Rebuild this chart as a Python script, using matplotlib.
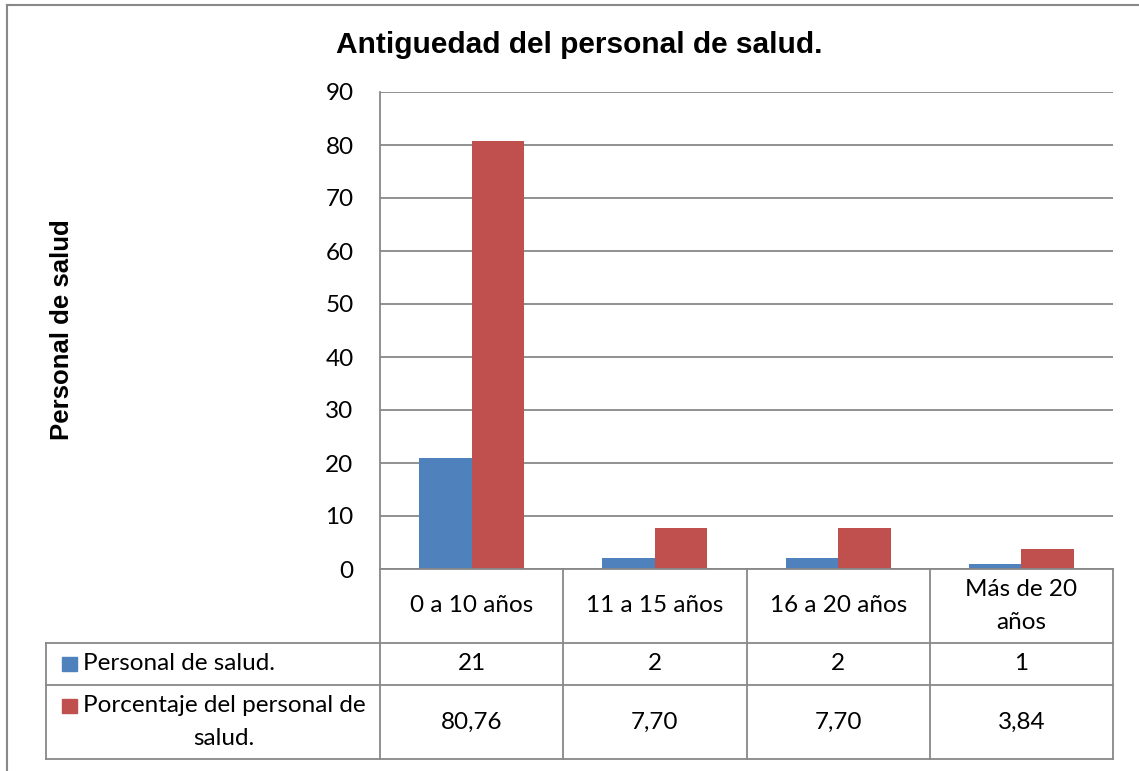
import matplotlib
matplotlib.use("Agg")
import matplotlib.pyplot as plt
import numpy as np

categories = ["0 a 10 años", "11 a 15 años", "16 a 20 años", "Más de 20\naños"]
series_names = ["Personal de salud.", "Porcentaje del personal de\nsalud."]
personal = [21, 2, 2, 1]
porcentaje = [80.76, 7.70, 7.70, 3.84]
personal_labels = ["21", "2", "2", "1"]
porcentaje_labels = ["80,76", "7,70", "7,70", "3,84"]
yticks = [0, 10, 20, 30, 40, 50, 60, 70, 80, 90]

title = "Antiguedad del personal de salud."
ylabel = "Personal de salud"

BLUE = "#4F81BD"
RED = "#C0504D"
GRID = "#888888"

W, H = 1139, 771
fig = plt.figure(figsize=(W / 100, H / 100), dpi=100)
fig.patch.set_facecolor("white")

fs = 17.5
fam = "Lato"
LS = 1.75

# layout in pixels
PL, PR, PT, PB = 380, 1113, 92, 569
ax = fig.add_axes([PL / W, 1 - PB / H, (PR - PL) / W, (PB - PT) / H])

x = np.arange(len(categories))
bw = 0.287
ax.bar(x - bw / 2, personal, bw, color=BLUE, zorder=3)
ax.bar(x + bw / 2, porcentaje, bw, color=RED, zorder=3)
ax.set_xlim(-0.5, len(categories) - 0.5)
ax.set_ylim(0, 90)
ax.set_yticks(yticks)
ax.set_yticklabels([str(t) for t in yticks], fontsize=fs, fontfamily=fam)
ax.set_xticks([])
ax.tick_params(axis="y", length=0, pad=19)
ax.yaxis.grid(True, color=GRID, lw=1.3, zorder=0)
ax.set_axisbelow(True)
for s in ["top", "right", "bottom"]:
    ax.spines[s].set_visible(False)
ax.spines["left"].set_color(GRID)
ax.spines["left"].set_linewidth(1.3)

# overlay in pixel coords for table and frame
ov = fig.add_axes([0, 0, 1, 1])
ov.set_xlim(0, W)
ov.set_ylim(H, 0)
ov.axis("off")
ov.patch.set_visible(False)

lc = GRID
lw = 1.3
# outer chart border (top and left)
ov.plot([7, W], [5, 5], color=lc, lw=1.5)
ov.plot([7, 7], [5, H], color=lc, lw=1.5)

TL = 46
rows = [PB, 643, 685, 759]
cw = (PR - PL) / len(categories)
edges = [PL + i * cw for i in range(len(categories) + 1)]
ov.plot([PL, PR], [rows[0], rows[0]], color=lc, lw=lw)
for r in rows[1:]:
    ov.plot([TL, PR], [r, r], color=lc, lw=lw)
for e in edges:
    ov.plot([e, e], [rows[0], rows[3]], color=lc, lw=lw)
ov.plot([TL, TL], [rows[1], rows[3]], color=lc, lw=lw)

for i, c in enumerate(categories):
    cx = (edges[i] + edges[i + 1]) / 2
    ov.text(cx, (rows[0] + rows[1]) / 2, c, ha="center", va="center",
            fontsize=fs, fontfamily=fam, linespacing=LS)
    ov.text(cx, (rows[1] + rows[2]) / 2, personal_labels[i], ha="center",
            va="center", fontsize=fs, fontfamily=fam)
    ov.text(cx, (rows[2] + rows[3]) / 2, porcentaje_labels[i], ha="center",
            va="center", fontsize=fs, fontfamily=fam)

# row labels with legend keys
key_centers = [664, 706]
for k, (name, col) in enumerate(zip(series_names, [BLUE, RED])):
    r0, r1 = rows[k + 1], rows[k + 2]
    cy = (r0 + r1) / 2
    ov.add_patch(plt.Rectangle((62, key_centers[k] - 7), 15, 14, color=col))
    ov.text(83, cy, name, ha="left", va="center", fontsize=fs, fontfamily=fam,
            multialignment="center", linespacing=LS)

fig.text(579 / W, 1 - 45 / H, title, ha="center", va="center", fontsize=21.5,
         fontweight="bold", fontfamily="Liberation Sans")
fig.text(62 / W, 1 - 330 / H, ylabel, ha="center", va="center", fontsize=18.5,
         fontweight="bold", fontfamily="Liberation Sans", rotation=90)

fig.savefig("out.png", dpi=100, facecolor="white")
